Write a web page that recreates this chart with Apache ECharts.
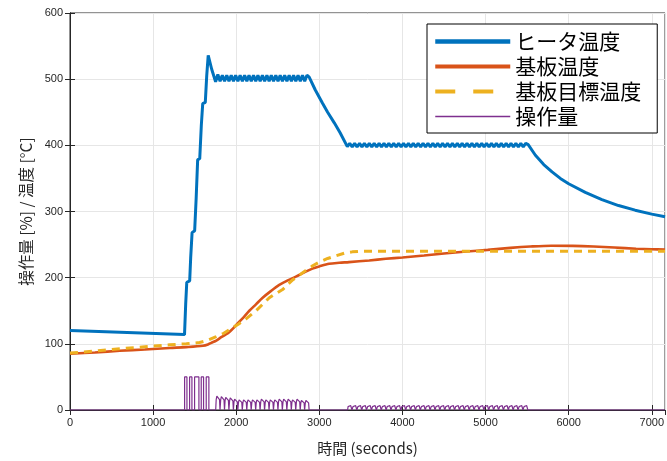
<!DOCTYPE html>
<html><head><meta charset="utf-8">
<script src="https://cdn.jsdelivr.net/npm/echarts@6/dist/echarts.min.js"></script>
<style>html,body{margin:0;padding:0;background:#fff}#c{width:667px;height:461px}</style>
</head><body><div id="c"></div>
<script>
// ---- data ----
const seriesNames = ['ヒータ温度', '基板温度', '基板目標温度', '操作量'];
const xTicks = [0, 1000, 2000, 3000, 4000, 5000, 6000, 7000];
const yTicks = [0, 100, 200, 300, 400, 500, 600];

// ヒータ温度 [time, °C]
const heaterTemp = [
 [0,120],[1378,114],[1392,160],[1405,193],[1440,195],[1452,230],[1469,268],[1500,271],[1518,320],[1536,378],[1561,380],[1580,430],[1597,463],[1628,465],[1645,505],[1663,536],[1705,515],[1752,496],
 [1779,507],[1806,497],[1833,506],[1860,497],[1886,506],[1913,497],[1940,506],[1967,497],[1993,506],[2020,497],[2047,506],[2074,497],[2101,506],[2128,497],[2154,506],[2181,497],[2208,506],[2235,497],[2261,506],[2288,497],[2315,506],[2342,497],[2369,506],[2396,497],[2422,506],[2449,497],[2476,506],[2503,497],[2529,506],[2556,497],[2583,506],[2610,497],[2637,506],[2664,497],[2690,506],[2717,497],[2744,506],[2771,497],[2797,506],[2824,497],[2851,506],[2878,503],
 [2950,484],[3037,464],[3100,450],[3180,434],[3250,419],[3337,398],
 [3366,403],[3396,397.5],[3425,403],[3454,397.5],[3484,403],[3513,397.5],[3542,403],[3572,397.5],[3601,403],[3631,397.5],[3660,403],[3690,397.5],[3719,403],[3748,397.5],[3778,403],[3807,397.5],[3836,403],[3866,397.5],[3895,403],[3925,397.5],[3954,403],[3984,397.5],[4013,403],[4042,397.5],[4072,403],[4101,397.5],[4130,403],[4160,397.5],[4189,403],[4219,397.5],[4248,403],[4278,397.5],[4307,403],[4336,397.5],[4366,403],[4395,397.5],[4424,403],[4454,397.5],[4483,403],[4513,397.5],[4542,403],[4572,397.5],[4601,403],[4630,397.5],[4660,403],[4689,397.5],[4718,403],[4748,397.5],[4777,403],[4807,397.5],[4836,403],[4866,397.5],[4895,403],[4924,397.5],[4954,403],[4983,397.5],[5012,403],[5042,397.5],[5071,403],[5101,397.5],[5130,403],[5160,397.5],[5189,403],[5218,397.5],[5248,403],[5277,397.5],[5306,403],[5336,397.5],[5365,403],[5395,397.5],[5424,403],[5454,397.5],[5483,403],[5513,401],
 [5600,385],[5700,371],[5800,360],[5900,350],[6000,342],[6200,329],[6400,318],[6600,309],[6800,302],[7000,296],[7160,292]
];

// 基板温度 [time, °C]
const substrateTemp = [
 [0,85],[300,87],[600,89.5],[900,91.5],[1200,93.7],[1400,95],[1600,97],[1660,99],[1700,101.5],[1760,105],[1820,110],[1880,114.5],[1918,118],[1960,123],[2000,128.5],[2080,139],[2158,150],[2240,160],[2318,169.6],[2420,180],[2518,189],[2620,196],[2718,201.5],[2820,208],[2918,213.7],[3000,217],[3118,221],[3240,222.5],[3357,223.5],[3600,226],[3800,228.5],[4000,230.5],[4260,233.5],[4500,236.5],[4770,239.5],[5026,242],[5300,245],[5536,247],[5791,248.3],[6050,248],[6301,247],[6550,245.5],[6811,243.8],[7000,243],[7160,242.5]
];

// 基板目標温度 [time, °C]
const targetTemp = [
 [0,86],[300,89],[600,92.5],[900,95.5],[1200,98.5],[1400,100],[1559,102],[1650,105],[1759,110.8],[1850,116],[1938,123],[2030,130],[2118,137.7],[2238,150],[2320,160],[2398,169.6],[2478,176],[2558,182],[2678,196.6],[2760,204],[2838,211],[2920,218],[2998,223.5],[3100,229],[3198,233],[3300,237],[3397,239],[3500,240],[7160,240]
];

// 操作量 [%]: full-power pulses [on, off], level
const pulseLevel = 50;
const pulses = [[1379,1407],[1439,1467],[1499,1551],[1579,1607],[1639,1671]];
// hump peaks [time, %]
const humps = [
 [1779,22],[1833,21],[1886,20],[1940,19],[1993,17],[2047,16],[2101,16],[2154,16],[2208,16],[2261,16],[2315,17],[2369,16],[2422,16],[2476,16],[2529,17],[2583,17],[2637,17],[2690,16],[2744,17],[2797,15],[2851,15],
 [3366,7],[3425,7],[3484,7],[3542,7],[3601,7],[3660,7],[3719,7],[3778,7],[3836,7],[3895,7],[3954,7],[4013,7],[4072,7],[4130,7],[4189,7],[4248,7],[4307,7],[4366,7],[4424,7],[4483,7],[4542,7],[4601,7],[4660,7],[4718,7],[4777,7],[4836,7],[4895,7],[4954,7],[5012,7],[5071,7],[5130,7],[5189,7],[5248,7],[5306,7],[5365,7],[5424,7],[5483,7]
];
const tEnd = 7160;

// ---- build 操作量 polyline ----
const control = [[0,0]];
pulses.forEach(p => { control.push([p[0],0],[p[0],pulseLevel],[p[1],pulseLevel],[p[1],0]); });
humps.forEach(h => {
  const t = h[0], v = h[1];
  control.push([t-26,0],[t-20,v*0.72],[t-12,v*0.96],[t,v],[t+12,v*0.96],[t+20,v*0.72],[t+26,0]);
});
control.push([tEnd,0]);

const AX = '#262626';
const tickFont = {fontFamily:'Liberation Sans, Arial, sans-serif', fontSize:11, color:AX};
const cjk = '"Noto Sans CJK JP", sans-serif';
const noSym = {color:'rgba(0,0,0,0)', borderColor:'rgba(0,0,0,0)', borderWidth:0, opacity:0};

const chart = echarts.init(document.getElementById('c'), null, {renderer:'canvas'});
chart.setOption({
  animation:false,
  backgroundColor:'#fff',
  grid:{left:70, right:0, top:13, bottom:40, show:true, borderColor:AX, borderWidth:1, backgroundColor:'#fff'},
  xAxis:[{
    type:'value', min:0, max:tEnd, interval:1000,
    name:'時間 (seconds)', nameLocation:'middle', nameGap:31,
    nameTextStyle:{fontFamily:cjk, fontSize:15, color:AX},
    axisLine:{show:true, lineStyle:{color:AX, width:1}},
    axisTick:{show:true, inside:true, length:5, lineStyle:{color:AX}},
    axisLabel:Object.assign({margin:7, showMaxLabel:false, formatter:v => xTicks.includes(v) ? String(v) : ''}, tickFont),
    splitLine:{show:true, lineStyle:{color:'#e6e6e6', width:1}}
  },{
    type:'value', position:'top', min:0, max:tEnd, interval:1000,
    axisLine:{show:true, lineStyle:{color:AX}},
    axisTick:{show:true, inside:true, length:5, lineStyle:{color:AX}},
    axisLabel:{show:false}, splitLine:{show:false}
  }],
  yAxis:[{
    type:'value', min:0, max:600, interval:100,
    name:'操作量 [%] / 温度 [°C]', nameLocation:'middle', nameGap:33,
    nameTextStyle:{fontFamily:cjk, fontSize:15.5, color:AX},
    axisLine:{show:true, lineStyle:{color:AX, width:1}},
    axisTick:{show:true, inside:true, length:5, lineStyle:{color:AX}},
    axisLabel:Object.assign({margin:7, formatter:v => yTicks.includes(v) ? String(v) : ''}, tickFont),
    splitLine:{show:true, lineStyle:{color:'#e6e6e6', width:1}}
  },{
    type:'value', position:'right', min:0, max:600, interval:100,
    axisLine:{show:true, lineStyle:{color:AX}},
    axisTick:{show:true, inside:true, length:5, lineStyle:{color:AX}},
    axisLabel:{show:false}, splitLine:{show:false}
  }],
  legend:{
    orient:'vertical', left:427, top:24,
    padding:[7,16,6,6], itemGap:4, itemWidth:75, itemHeight:14,
    backgroundColor:'#fff', borderColor:'#000', borderWidth:1, borderRadius:0,
    textStyle:{fontFamily:cjk, fontSize:21, color:'#000', lineHeight:21},
    itemStyle:noSym,
    data:[
      {name:seriesNames[0], lineStyle:{width:4.5}, itemStyle:noSym},
      {name:seriesNames[1], lineStyle:{width:4}, itemStyle:noSym},
      {name:seriesNames[2], lineStyle:{width:4, type:[20,18]}, itemStyle:noSym},
      {name:seriesNames[3], lineStyle:{width:1.6}, itemStyle:noSym}
    ]
  },
  series:[
    {name:seriesNames[0], type:'line', data:heaterTemp, symbol:'none', color:'#0072BD', lineStyle:{width:3, color:'#0072BD'}, z:3},
    {name:seriesNames[1], type:'line', data:substrateTemp, symbol:'none', smooth:0.3, color:'#D95319', lineStyle:{width:2.6, color:'#D95319'}, z:4},
    {name:seriesNames[2], type:'line', data:targetTemp, symbol:'none', color:'#EDB120', lineStyle:{width:3, color:'#EDB120', type:[8,6]}, z:5},
    {name:seriesNames[3], type:'line', data:control, symbol:'none', color:'#7E2F8E', lineStyle:{width:1.2, color:'#7E2F8E'}, z:6}
  ]
});
</script></body></html>
